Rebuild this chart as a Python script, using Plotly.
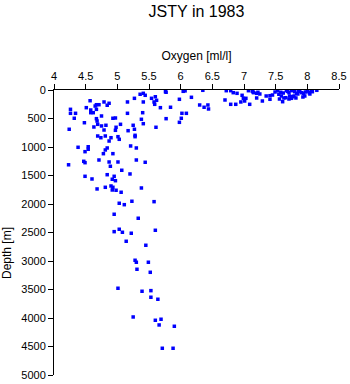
import plotly.graph_objects as go

# Oxygen [ml/l] and Depth [m]
oxygen = [
    5.36, 5.41, 5.44, 5.27, 5.60, 5.54, 5.62, 5.58, 5.59, 5.68,
    5.41, 5.16, 4.87, 4.79, 4.84, 4.57, 4.67, 4.71, 4.65, 4.51,
    4.26, 4.58, 4.67, 4.58, 4.62, 4.26, 4.34, 5.16, 5.40, 4.75,
    4.32, 4.67, 4.93, 4.97, 5.38, 4.68, 4.48, 5.05, 5.41, 4.69,
    4.75, 4.82, 5.25, 4.63, 4.98, 5.61, 4.24, 4.79, 4.97, 5.27,
    5.17, 5.28, 5.28, 4.69, 4.74, 4.81, 4.90, 5.01, 5.03, 4.87,
    4.38, 4.54, 4.54, 4.84, 4.81, 5.21, 5.30, 4.49, 4.78, 4.93,
    4.71, 4.87, 5.01, 5.30, 5.44, 4.47, 4.49, 4.23,
    4.89, 5.07, 5.20, 4.84, 4.95, 4.49, 4.60, 4.92, 4.97, 4.81,
    4.90, 4.93, 4.92, 4.98, 4.68, 5.06, 5.38, 5.03, 5.11, 5.23,
    5.58, 4.95, 5.33, 5.03, 4.95, 5.08, 5.22, 5.60, 5.14, 5.45,
    5.28, 5.30, 5.49, 5.31, 5.52, 5.01, 5.39, 5.53, 5.53, 5.64,
    5.25, 5.60, 5.69, 5.66, 5.90, 5.71, 5.88,
    5.77, 6.04, 6.07, 6.35, 5.98, 6.17, 5.84, 6.30, 6.43, 6.37,
    6.44, 6.02, 6.09, 5.77, 6.01, 5.98, 6.70, 6.72, 6.79, 6.83,
    6.89, 6.97, 6.99, 7.03, 7.01, 6.95, 6.87, 6.79, 7.09, 7.07,
    7.14, 7.20, 7.20, 7.29, 7.35, 7.41, 7.45, 7.61, 7.71, 7.77,
    7.96, 8.04, 8.08, 8.15, 7.13, 7.53, 7.55, 7.59, 7.67, 7.71,
    7.72, 7.66, 7.75, 7.79, 7.83, 7.88, 7.91, 8.03, 8.06, 7.75,
    7.22, 7.15, 7.49, 7.62, 7.85, 7.93, 7.97, 7.63, 7.82, 7.56,
    7.41, 7.69, 7.80, 7.94, 8.00, 7.58, 7.86, 7.25, 5.76,
]
depth = [
    75, 58, 93, 146, 118, 146, 181, 210, 251, 310,
    210, 210, 233, 210, 268, 188, 258, 258, 281, 310,
    339, 351, 339, 398, 398, 409, 409, 409, 398, 456,
    496, 503, 496, 491, 514, 544, 574, 602, 591, 602,
    631, 619, 619, 649, 654, 654, 689, 702, 707, 689,
    714, 795, 819, 807, 837, 807, 837, 819, 865, 895,
    1005, 995, 1040, 1017, 1052, 982, 1017, 1082, 1117, 1117,
    1228, 1263, 1263, 1228, 1268, 1251, 1275, 1312,
    1338, 1408, 1473, 1486, 1514, 1514, 1561, 1566, 1591, 1707,
    1684, 1707, 1754, 1759, 1736, 1794, 1719, 1987, 2012, 1952,
    1959, 2180, 2250, 2443, 2485, 2496, 2513, 2461, 2654, 2724,
    2987, 3022, 3022, 3145, 3198, 3478, 3531, 3520, 3636, 3671,
    3982, 4040, 4022, 4122, 4145, 4531, 4531,
    40, 23, 15, 5, 163, 128, 303, 263, 263, 303,
    333, 409, 409, 503, 496, 567, 175, 12, 12, 47,
    58, 93, 146, 146, 193, 210, 251, 251, 251, 12,
    30, 58, 140, 193, 105, 163, 88, 205, 158, 118,
    105, 70, 30, 5, 18, 12, 75, 105, 12, 47,
    105, 135, 12, 105, 58, 12, 47, 47, 12, 146,
    40, 47, 35, 53, 70, 123, 35, 140, 140, 158,
    100, 25, 30, 60, 20, 40, 25, 70, 30,
]

x_ticks = [4, 4.5, 5, 5.5, 6, 6.5, 7, 7.5, 8, 8.5]
x_ticklabels = ["4", "4.5", "5", "5.5", "6", "6.5", "7", "7.5", "8", "8.5"]
y_ticks = [0, 500, 1000, 1500, 2000, 2500, 3000, 3500, 4000, 4500, 5000]

FONT = "Liberation Sans, Arial, sans-serif"

fig = go.Figure(
    go.Scatter(
        x=oxygen,
        y=depth,
        mode="markers",
        marker=dict(symbol="square", size=3.5, color="#0000ff", line=dict(width=0)),
        hoverinfo="x+y",
    )
)

fig.update_layout(
    width=350,
    height=384,
    margin=dict(l=54, r=11, t=90, b=9, autoexpand=False),
    paper_bgcolor="white",
    plot_bgcolor="white",
    showlegend=False,
    font=dict(family=FONT, size=11, color="black"),
    title=dict(
        text="JSTY in 1983",
        x=196.5 / 350,
        xanchor="center",
        y=1 - 11 / 384,
        yanchor="middle",
        font=dict(family=FONT, size=16, color="black"),
    ),
    xaxis=dict(
        side="top",
        range=[4, 8.5],
        tickvals=x_ticks,
        ticktext=x_ticklabels,
        ticks="outside",
        ticklen=5,
        tickcolor="black",
        tickwidth=1,
        showline=True,
        linecolor="black",
        linewidth=1,
        showgrid=False,
        zeroline=False,
        automargin=False,
        title=dict(text="Oxygen [ml/l]", font=dict(size=12), standoff=6),
    ),
    yaxis=dict(
        range=[5000, 0],
        tickvals=y_ticks,
        ticks="outside",
        ticklen=5,
        tickcolor="black",
        tickwidth=1,
        showline=True,
        linecolor="black",
        linewidth=1,
        showgrid=False,
        zeroline=False,
        automargin=False,
    ),
    annotations=[
        dict(
            text="Depth [m]",
            textangle=-90,
            xref="paper",
            yref="paper",
            x=-47 / 285,
            y=(375 - 253) / 285,
            xanchor="center",
            yanchor="middle",
            showarrow=False,
            font=dict(family=FONT, size=12, color="black"),
        )
    ],
)

fig.write_html("out.html")
